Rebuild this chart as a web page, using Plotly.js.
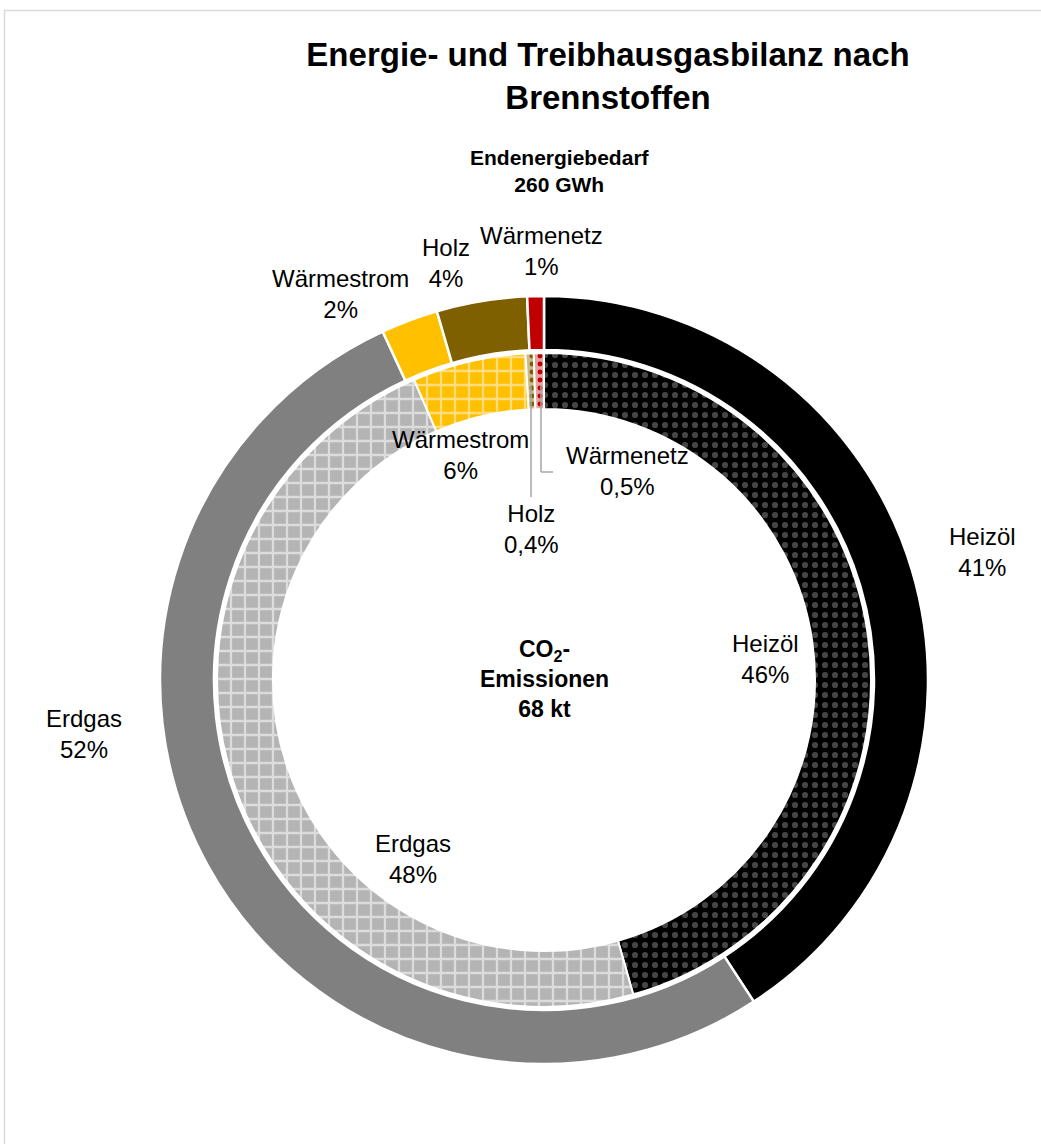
<!DOCTYPE html>
<html>
<head>
<meta charset="utf-8">
<script src="https://cdn.plot.ly/plotly-3.0.1.min.js"></script>
<style>html,body{margin:0;padding:0;background:#fff;}#chart{width:1041px;height:1144px;}</style>
</head>
<body>
<div id="chart"></div>
<script>
// ---- data ----
const categories = ['Heizöl', 'Erdgas', 'Wärmestrom', 'Holz', 'Wärmenetz'];
const energyShare = [40.8, 52.3, 2.4, 3.8, 0.7];     // Endenergiebedarf, %
const co2Share = [45.6, 47.9, 5.6, 0.4, 0.5];        // CO2-Emissionen, %
const energyText = ['41%', '52%', '2%', '4%', '1%'];
const co2Text = ['46%', '48%', '6%', '0,4%', '0,5%'];
const chartTitle = 'Energie- und Treibhausgasbilanz nach<br>Brennstoffen';
const outerCaption = 'Endenergiebedarf<br>260 GWh';
const innerCaption = 'CO<sub>2</sub>-<br>Emissionen<br>68 kt';

// ---- styles ----
const W = 1041, H = 1144;
const px = x => x / W;
const py = y => 1 - y / H;
const FONT = 'Liberation Sans, Arial, sans-serif';
const cx = 544, cy = 680;
const Rout = 384, Rin = 327;

const outerColors = ['#000000', '#808080', '#FFC000', '#7F6000', '#C00000'];
const innerBg = ['#000000', '#B4B4B4', '#FFC000', '#CDB98A', '#E8A3A3'];
const innerFg = ['#454545', '#DCDCDC', '#FFDD80', '#7F6000', '#C00000'];
const innerShape = ['.', '+', '+', '.', '.'];
const innerPatSize = [10, 14, 14, 8, 8];

const outer = {
  type: 'pie', labels: categories, values: energyShare, sort: false,
  direction: 'clockwise', rotation: 0, hole: 330 / Rout,
  textinfo: 'none', hoverinfo: 'label+percent', showlegend: false,
  marker: {colors: outerColors, line: {color: '#ffffff', width: 2.5}},
  domain: {x: [px(cx - Rout), px(cx + Rout)], y: [py(cy + Rout), py(cy - Rout)]}
};
const inner = {
  type: 'pie', labels: categories, values: co2Share, sort: false,
  direction: 'clockwise', rotation: 0, hole: 271 / Rin,
  textinfo: 'none', hoverinfo: 'label+percent', showlegend: false,
  marker: {colors: innerBg, line: {color: '#ffffff', width: 2},
    pattern: {shape: innerShape, bgcolor: innerBg, fgcolor: innerFg, size: innerPatSize, solidity: 0.3}},
  domain: {x: [px(cx - Rin), px(cx + Rin)], y: [py(cy + Rin), py(cy - Rin)]}
};

// label positions (pixel centres)
const outerPos = [[982, 552], [84, 734], [340, 294], [446, 263], [541, 251]];
const innerPos = [[765, 659], [413, 859], [460, 455], [531, 529], [627, 471]];

const annotations = [];
categories.forEach((c, i) => {
  annotations.push({x: px(outerPos[i][0]), y: py(outerPos[i][1]), xref: 'paper', yref: 'paper',
    text: c + '<br>' + energyText[i], showarrow: false, xanchor: 'center', yanchor: 'middle',
    font: {family: FONT, size: 24, color: '#000'}});
  annotations.push({x: px(innerPos[i][0]), y: py(innerPos[i][1]), xref: 'paper', yref: 'paper',
    text: c + '<br>' + co2Text[i], showarrow: false, xanchor: 'center', yanchor: 'middle',
    font: {family: FONT, size: 24, color: '#000'}});
});
annotations.push({x: px(560), y: py(171), xref: 'paper', yref: 'paper', text: '<b>' + outerCaption + '</b>',
  showarrow: false, xanchor: 'center', yanchor: 'middle', font: {family: FONT, size: 21, color: '#000'}});
annotations.push({x: px(544), y: py(679), xref: 'paper', yref: 'paper', text: '<b>' + innerCaption + '</b>',
  showarrow: false, xanchor: 'center', yanchor: 'middle', font: {family: FONT, size: 23, color: '#000'}});

const lc = '#A6A6A6';
const shapes = [
  {type: 'rect', xref: 'paper', yref: 'paper', x0: px(4.5), x1: px(1060), y0: py(1160), y1: py(10.5),
   line: {color: '#D9D9D9', width: 1.5}, fillcolor: 'rgba(0,0,0,0)'},
  {type: 'line', xref: 'paper', yref: 'paper', x0: px(531), x1: px(531), y0: py(385), y1: py(497), line: {color: lc, width: 1.5}},
  {type: 'line', xref: 'paper', yref: 'paper', x0: px(541), x1: px(541), y0: py(385), y1: py(472), line: {color: lc, width: 1.5}},
  {type: 'line', xref: 'paper', yref: 'paper', x0: px(541), x1: px(553), y0: py(472), y1: py(472), line: {color: lc, width: 1.5}}
];

const layout = {
  width: W, height: H, margin: {l: 0, r: 0, t: 0, b: 0},
  paper_bgcolor: '#ffffff', plot_bgcolor: '#ffffff',
  title: {text: '<b>' + chartTitle + '</b>', x: px(608), y: py(66), xanchor: 'center', yanchor: 'middle',
    font: {family: FONT, size: 33, color: '#000'}},
  annotations: annotations, shapes: shapes, showlegend: false
};
Plotly.newPlot('chart', [outer, inner], layout, {displayModeBar: false, staticPlot: true});
</script>
</body>
</html>
